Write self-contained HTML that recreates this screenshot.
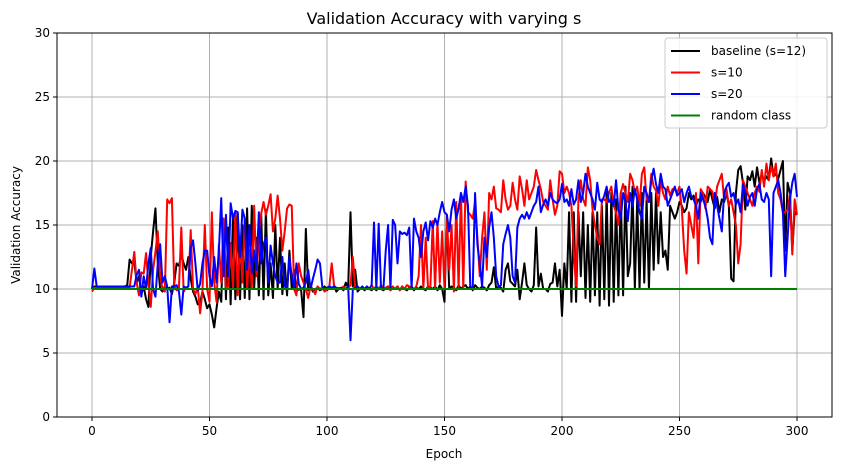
<!DOCTYPE html>
<html><head><meta charset="utf-8"><style>
body{margin:0;background:#fff;font-family:"Liberation Sans","DejaVu Sans",sans-serif}
svg text{font-family:"DejaVu Sans","Liberation Sans",sans-serif}
</style></head><body>
<svg id="c" width="841" height="470" xmlns="http://www.w3.org/2000/svg"></svg>
<script>
const xTicks=[0,50,100,150,200,250,300];
const yTicks=[0,5,10,15,20,25,30];
const seriesNames=["baseline (s=12)","s=10","s=20","random class"];
const seriesColors=["#000000","#ff0000","#0000ff","#008000"];
const baseline=[10,10.2,10.2,10.2,10.2,10.2,10.2,10.2,10.2,10.2,
10.2,10.2,10.2,10.2,10.2,10.3,12.3,12,12.1,10.5,
11,9.6,10.2,9.2,8.6,12.5,14.5,16.3,12,10,
9.8,10.2,10,10.1,9.6,10.5,12,11.8,12.7,12,
11.5,12.5,10.8,9.8,9.4,8.8,8.9,9.8,9.2,8.5,
8.8,8,7,8.5,9.8,9,15.5,9.2,14.8,8.8,
15.8,9.2,15.9,9.2,15,9.3,16.3,9.2,16.5,10,
14,9.5,15.8,9.2,16.2,9.5,12,9.3,15,10,
14,9.6,12,9.5,13,10,11.5,9.8,10,9.9,
7.8,14.7,9.9,10.2,9.8,10,10.1,9.9,10,10.2,
9.9,10.1,10,10.2,9.8,10,10.1,9.9,10.5,10.1,
16,10.2,11.5,9.8,10,10.1,9.9,10.1,10,9.9,
10.1,9.9,10.1,10,9.9,10.1,10.2,9.9,10.1,10,
10.2,9.9,10.2,10,9.9,10.1,10.2,9.9,10.1,10,
10.2,10,9.9,10.2,10.1,10,10.2,9.9,10.3,10,
9,15.8,10,10.2,10.1,9.9,10.3,10,10.2,10.3,
10,10.2,9.9,10.3,10.1,10,10.2,10.1,9.9,10.3,
10.5,11.7,10,10.2,10.1,9.8,11.5,12,10.6,10.4,
10.2,11.5,9.2,10.5,12,10.3,10,9.8,10.3,14.8,
10.2,11.2,10,10,9.8,10.4,10.5,12,10.2,11.5,
7.9,12,10,16,9,16,9,16,11,16,
9.3,15,9,16,9.5,16,8.7,16.5,9.2,17.5,
8.7,17.5,9,17,9.5,17.5,9.5,18,11,12,
18,10,17,10,17.5,10.5,17,10,17.5,11.5,
17.5,12,16,12.5,13,11.5,16.5,16,15.5,16,
16.8,16.5,16,16.3,17.5,17,17.3,16.5,17,16.8,
17.5,17.2,16.8,17.8,17,16.3,17.2,16,17,16.8,
17.5,16.5,10.8,10.6,17.5,19.3,19.6,18.3,16.2,18.8,
18.5,19.2,18,19.5,18.3,19,18.4,18.8,18.5,20.2,
18.8,19,18.6,19.3,20,13,18.3,17.5,13,16,15.8];
const s10=[9.8,10.1,10.1,10.1,10.1,10.1,10.1,10.1,10.1,10.1,
10.1,10.1,10.1,10.1,10.1,10.1,10.1,11.5,12.9,10.5,
9.5,11.3,11.2,12.8,10.5,8.6,11.5,12.9,14.5,11,
10,9.8,17,16.7,17.1,10.2,9.9,10.1,14.8,9.8,
10.1,10.2,14.6,10,9.6,10.2,8.1,9.8,15,10,
9,16,10.5,9,13.5,10.5,15.5,10,10.2,13.6,
10,16,9.5,14,10.5,15.5,10,13,10,16.5,
11,14,15.9,16.8,15.8,16.5,17.4,14.5,15.5,17.3,
15.5,13,14.5,16.3,16.6,16.5,10,9.5,12,11,
10.5,10,9.3,10.2,10,9.6,10.2,10,10.1,9.8,
10,10.2,12,10.3,10,10.1,10,10.2,10,10.1,
10.3,12.5,10,10.2,10,10.1,10,10.2,10,10.3,
10,10.2,10,10.3,10,10.1,10.2,9.9,10.2,10,
10.2,9.9,10.2,10,10.3,10.2,10,10,10.2,11,
15,10,14,10,10.2,15.3,10,15.2,10.5,14.5,
10,15.8,11.5,15,9.8,16.8,10,17.5,10,18.4,
16,15.8,15.5,16.8,14,11,14,16,11.5,17.5,
17,18,16.3,16.2,16,18.5,17,16.2,16.5,18.3,
17,16.2,18.8,17.8,16.5,18.5,17,17.5,18,19.3,
18.5,17.8,16.8,16.5,16.2,18.5,17,15.8,16.5,19.2,
19,17.5,18,17.5,16.5,13,10.2,17,18.5,17,
16.5,19.5,18.5,16.2,15,14,13.5,17,17,16.8,
17.5,18,16.5,16,15,17.5,18.2,17.5,16.8,19,
18.5,17.5,18,16.5,19,19.5,17,16.8,19,18,
17.7,16.5,18.5,17.5,17,18,17.3,17.8,17.8,17.5,
18,16.2,13,11.2,16,15,14,17.5,12,17.8,
17.5,16.3,18,17.8,17.6,16.5,18,18.5,19,17,
17.8,16.5,17,16,15,12,13.5,18.5,18,17.5,
17,16.5,17.5,18,17.6,19.3,18,19.8,18.5,19.6,
18.8,19.8,17.5,17,16,16,16.2,17.4,12.7,17,15.8];
const s20=[10,11.6,10.2,10.2,10.2,10.2,10.2,10.2,10.2,10.2,
10.2,10.2,10.2,10.2,10.2,10.2,10.2,10.2,10.2,11.1,
11.5,9.4,11,10,12,13.2,10,9.4,12,13.5,
10.5,11,10.2,7.4,10.2,10.2,10.3,9.8,8,10.2,
10.1,10.2,13.2,13.8,12,9.9,10.4,12,13,13,
11,10.2,12.5,10.5,13,17.1,11,15.8,11,16.7,
15.5,16.1,16,12.5,16.2,15.5,11.5,15,11.2,13,
11.5,16,12,13.5,14,10.5,13.4,12,11,10.5,
10.5,12.5,10.2,10,12.5,11,10.1,12,10.4,10,
10.1,10.5,11.5,10,10.8,11.5,12.3,12,10.2,10,
10.1,10.2,10.1,10.2,10.1,10,10.1,10,10,10.2,
6,10,10.1,10.2,10,10.2,10,10.2,10,10.3,
15.2,10,15.1,10,10,13,15,10,15.4,15,
12,14.5,14.3,14.4,14.2,14.8,10,15.5,14.5,14,
12.5,14.5,15.2,13.8,15.3,14.8,15.5,15,16,16.8,
16,15.8,14.5,16.2,17,15.5,16.3,17.5,16.8,18,
16.5,10,10,17.5,13.5,12,10.2,14,12.5,14.8,
16,14,11,10.2,10.3,13.5,14.3,15,14,11,
10.5,14.8,15.5,15.8,15.5,16,15.5,16,16.5,16.8,
18,16,16.6,17,16.5,17.5,17,16.8,16.7,17,
18.2,16.8,17,16.5,17.8,16.6,17,18.5,16.8,17.5,
19,18,17.5,17,16.2,18.3,17,16.8,17.3,18,
16.8,17,16.5,18.5,16.2,15.5,17.5,16.8,15.3,17.5,
16.5,17.8,17,16,15.5,18,17.5,16.8,18.5,19.4,
18.2,17.5,19,18,17.8,16.5,17,17.5,18,17.3,
17.5,17.8,16.8,17.5,18,17.2,17,16.5,15.5,17.5,
17,16.5,15.5,14,13.5,17.5,16.5,15.5,14.5,17.5,
18,18.3,17.2,17.5,16.6,17,16,18.2,17.5,16.5,
17.2,17.5,16.5,17.8,18.2,17,16.8,17.5,17,11,
17.5,18,18.5,17.5,16,11,14,17,18.3,19,17.2];
const randomClass=[10,10];
const randomEpochs=[0,300];

const svg=document.getElementById('c');
const NS='http://www.w3.org/2000/svg';
const L=57,R=832,T=33,B=417;
const X=v=>92+(v/300)*(797-92);
const Y=v=>B-(v/30)*(B-T);
function mk(tag,a,parent){const e=document.createElementNS(NS,tag);for(const k in a)e.setAttribute(k,a[k]);(parent||svg).appendChild(e);return e;}

const title=mk('text',{x:444,y:24,'text-anchor':'middle','font-size':16,fill:'#000'});
title.textContent='Validation Accuracy with varying s';



const grid=mk('g',{});


xTicks.forEach(t=>{
 const l=mk('line',{x1:X(t),x2:X(t),y1:T,y2:B,stroke:'#b0b0b0','stroke-width':1},grid);
 
 
 const tk=mk('line',{x1:X(t),x2:X(t),y1:B,y2:B+4,stroke:'#000'});
 
 
 const tx=mk('text',{x:X(t),y:B+18,'text-anchor':'middle','font-size':12,fill:'#000'});
 tx.textContent=t;
 
 
});
yTicks.forEach(t=>{
 const l=mk('line',{x1:L,x2:R,y1:Y(t),y2:Y(t),stroke:'#b0b0b0','stroke-width':1},grid);
 
 
 const tk=mk('line',{x1:L-4,x2:L,y1:Y(t),y2:Y(t),stroke:'#000'});
 
 
 const tx=mk('text',{x:L-7,y:Y(t)+4,'text-anchor':'end','font-size':12,fill:'#000'});
 tx.textContent=t;
 
 
});

const data=[baseline,s10,s20];
const names=['baseline-line','s10-line','s20-line'];
data.forEach((arr,i)=>{
 const p=mk('polyline',{points:arr.map((v,j)=>X(j)+','+Y(v)).join(' '),fill:'none',stroke:seriesColors[i],'stroke-width':2,'stroke-linejoin':'round'});
 
 
});
const g=mk('polyline',{points:randomClass.map((v,j)=>X(randomEpochs[j])+','+Y(v)).join(' '),fill:'none',stroke:seriesColors[3],'stroke-width':2});



const frame=mk('rect',{x:L,y:T,width:R-L,height:B-T,fill:'none',stroke:'#000','stroke-width':1});



const xl=mk('text',{x:444,y:458,'text-anchor':'middle','font-size':12,fill:'#000'});
xl.textContent='Epoch';


const yl=mk('text',{x:20,y:225,'text-anchor':'middle','font-size':12,fill:'#000',transform:'rotate(-90 20 225)'});
yl.textContent='Validation Accuracy';



const lg=mk('g',{});


mk('rect',{x:665,y:38,width:162,height:90,rx:3,fill:'#fff','fill-opacity':0.85,stroke:'#ccc'},lg);
seriesNames.forEach((n,i)=>{
 const yy=51+i*21.5;
 const e=mk('g',{},lg);
 
 
 mk('line',{x1:671,x2:700,y1:yy,y2:yy,stroke:seriesColors[i],'stroke-width':2},e);
 const t=mk('text',{x:711,y:yy+4,'font-size':12,fill:'#000'},e);
 t.textContent=n;
});
</script>
</body></html>
